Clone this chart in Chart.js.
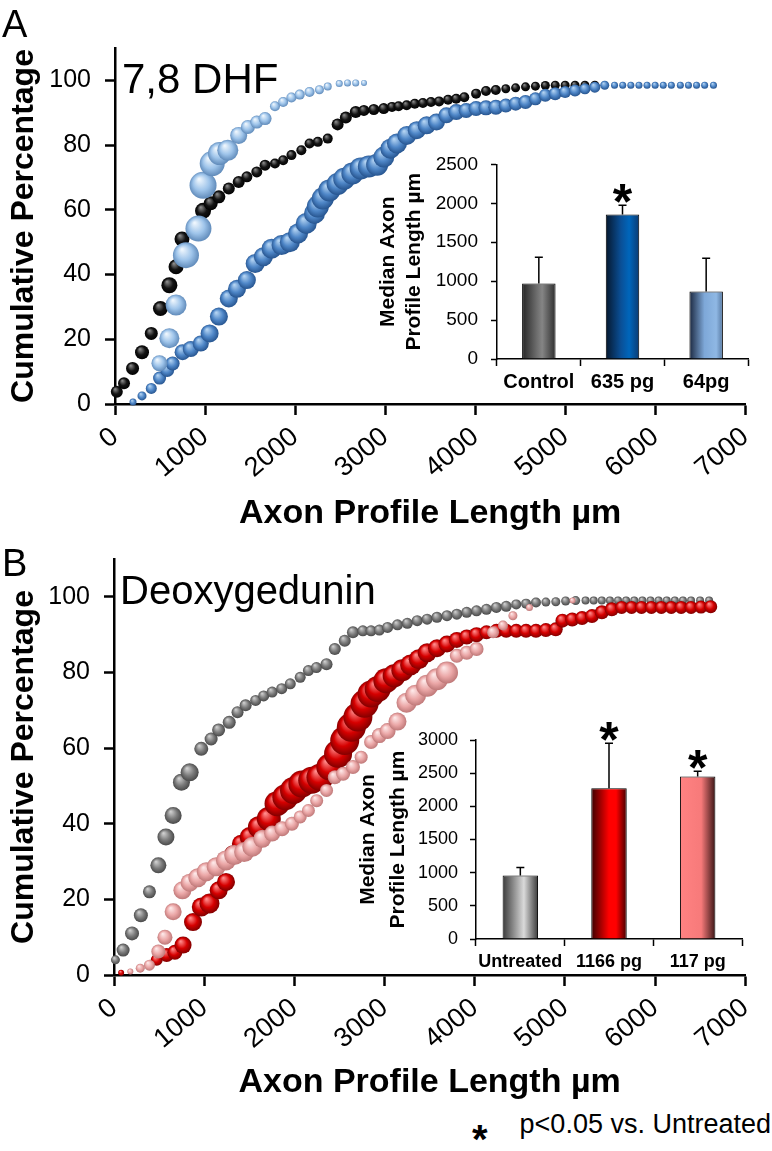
<!DOCTYPE html>
<html><head><meta charset="utf-8">
<script src="https://cdn.jsdelivr.net/npm/chart.js@4.4.1/dist/chart.umd.min.js"></script>
<style>
body{margin:0;background:#fff;width:772px;height:1151px;position:relative;overflow:hidden;font-family:"Liberation Sans",Arial,sans-serif;}
canvas{position:absolute;}
.t{position:absolute;white-space:nowrap;color:#000;line-height:1;}
</style></head><body>
<canvas id="cA" width="772" height="545" style="left:0;top:0"></canvas>
<canvas id="cB" width="772" height="578" style="left:0;top:530px"></canvas>
<canvas id="iA" width="402" height="262" style="left:370px;top:140px"></canvas>
<canvas id="iB" width="432" height="290" style="left:340px;top:700px"></canvas>
<div class="t" style="left:2px;top:5px;font-size:38px">A</div>
<div class="t" style="left:122px;top:58px;font-size:42px">7,8 DHF</div>
<div class="t" style="left:2px;top:544px;font-size:38px">B</div>
<div class="t" style="left:120px;top:570px;font-size:40px">Deoxygedunin</div>
<div class="t" style="right:1px;top:1111px;font-size:27px">p&lt;0.05 vs. Untreated</div>
<div class="t" style="left:472px;top:1119px;font-size:40px;font-weight:bold">*</div>
<script>
// ---------- DATA ----------
const xTicks = [0,1000,2000,3000,4000,5000,6000,7000];
const yTicks = [0,20,40,60,80,100];
const xTitle = 'Axon Profile Length µm';
const yTitle = 'Cumulative Percentage';

// Panel A : 7,8 DHF
const ctrlA_x = [20,100,195,300,403,505,604,678,744,978,1063,1154,1264,1374,1465,1575,1667,1777,1868,1960,2070,2161,2253,2363,2473,2564,2674,2765,2875,2985,3077,3150,3240,3330,3420,3510,3600,3700,3790,3880,4011,4121,4230,4341,4450,4560,4670,4780,4890,5000,5110,5220,5330];
const ctrlA_y = [3.8,6.4,11,16,21.8,29.5,36.7,42.4,51,59.7,62,64,66.6,68.6,70.2,71.7,73.8,74.3,75.3,76.9,78.4,80.5,81,82,86.4,88.5,90.2,90.7,91,91.3,91.8,92,92.3,92.8,93,93.3,93.5,94,94.3,94.8,95.9,96.7,97,97.4,97.7,98,98.2,98.4,98.5,98.5,98.5,98.5,98.5];
const ctrlA_r = [6,6,6.5,7,6.5,7.5,8,7.5,7.5,8,7,6.5,6,6,5.5,5.5,5.5,5,5,5,5,5,5,5,6,6,6,5.5,5.5,5.5,5,5,5,5,5,5,5,5,5,5,5,5,5,4.5,4.5,4.5,4.5,4.5,4.5,4.5,4.5,4.5,4.5];

const dhf635_x = [200,300,403,495,580,640,751,842,953,1051,1154,1264,1355,1465,1557,1648,1740,1850,1942,2033,2124,2216,2253,2308,2381,2473,2546,2637,2729,2820,2912,2986,3059,3132,3242,3352,3462,3571,3681,3791,3901,4011,4121,4231,4341,4451,4560,4670,4780,4890,5000,5110,5220,5330,5440,5549,5640,5730,5820,5910,6000,6090,6180,6280,6370,6460,6550,6648];
const dhf635_y = [0.6,2.5,4.8,8,10.5,12.5,16,17,18.7,21.8,27,32.6,35.6,38.3,43.4,45.5,48,49.1,50,52.7,55.8,58.9,61,63.5,66,68,69.6,71.2,72.8,73.4,73.9,76.3,78.9,80.5,83,84.6,86.1,87.1,89.2,90.2,90.7,91.3,91.5,91.7,92.2,92.8,93.3,94.3,95.4,95.9,96.4,96.9,97.4,97.9,98.5,98.5,98.5,98.5,98.5,98.5,98.5,98.5,98.5,98.5,98.5,98.5,98.5,98.5];
const dhf635_r = [3.5,4.5,5.5,6.5,7,7,8,8,8,9,9,9,9,9,9.5,9.5,10,10,10,10,10.5,10.5,11,11,11,11,11,11,11,11,11,10.5,10,10,9.5,9,9,8.5,8,8,7.5,7.5,7.5,7.5,7,7,7,6.5,6.5,6.5,6,6,5.5,5.5,4.5,3.5,3.5,3.5,3.5,3.5,3.5,3.5,3.5,3.5,3.5,3.5,3.5,3.5];

const dhf64_x = [494,604,678,788,927,978,1080,1161,1253,1374,1476,1575,1667,1777,1868,1960,2052,2161,2271,2363,2491,2583,2674,2766];
const dhf64_y = [12.6,20.3,30.6,46,54.2,67.6,74.3,77.4,78.4,83,85.6,87.1,88.2,92,93.3,94.7,95.6,96.4,97.1,98.1,99,99.2,99.2,99.2];
const dhf64_r = [8,10,10.5,13,13,13.5,12.5,11.5,10.5,8.5,7,6.5,6.5,5,5,5,5,5,4.5,4,3.5,3.5,3.5,3];

// Panel B : Deoxygedunin
const untrB_x = [16,101,200,298,393,492,576,656,748,839,968,1077,1160,1278,1370,1460,1571,1660,1754,1860,1955,2065,2156,2245,2357,2449,2559,2650,2760,2851,2943,3034,3144,3253,3363,3473,3582,3693,3802,3912,4021,4131,4241,4350,4461,4570,4680,4790,4900,5009,5120,5230,5320,5410,5500,5590,5680,5770,5860,5950,6040,6130,6220,6310,6400,6500,6600];
const untrB_y = [4,6.6,11,15.8,22,29,36.5,42.2,51,53.6,59.8,62.4,64.8,66.8,69.5,71.3,72.6,73.8,74.8,75.7,77,78.7,80.5,81.3,82.2,86.2,88.4,90.6,91,91,91.2,91.9,92.6,93,93.7,94.1,94.6,95,95.4,95.9,96.3,96.7,97.2,97.5,98,98.2,98.5,98.6,98.7,98.9,99,99,99,99,99,99,99,99,99,99,99,99,99,99,99,99,99];
const untrB_r = [4.5,6.5,7,7,6.5,8,8.5,8.5,8.5,9,7,6.5,6.5,6.5,6,6,5.5,5.5,5.5,5.5,5.5,5.5,5.5,5.5,6,6,6,6,5.5,5.5,5.5,5.5,5.5,5.5,5.5,5.5,5.5,5.5,5.5,5.5,5.5,5.5,5.5,5.5,5,5,5,4.5,4.5,4.5,4.5,4,4,4,4,4,4,4,4,4,4,4,4,4,4,4,4];

const deo1166_x = [79,474,584,675,766,876,968,1059,1161,1242,1315,1407,1505,1607,1717,1808,1900,1991,2083,2193,2284,2394,2485,2559,2632,2705,2778,2851,2924,3015,3107,3198,3290,3380,3473,3582,3693,3802,3912,4021,4131,4241,4350,4461,4570,4680,4790,4899,4973,5082,5191,5301,5411,5521,5630,5740,5850,5960,6070,6180,6290,6400,6510,6618];
const deo1166_y = [0.6,4,5.3,6,7.9,14,18,18.9,22.4,24.6,32,34.7,36.5,39.1,41.3,45.3,47,48.8,50.5,51.5,52.3,55,58.5,62,65.5,68.2,71.7,74.3,75.6,77.8,79.1,80.6,82,83.5,85.2,86.4,87.5,88.6,89.4,90,90.6,91,91,91,91,91,91.2,91.4,93.7,94,94.4,94.9,95.9,96.7,97.2,97.2,97.2,97.2,97.2,97.2,97.2,97.2,97.3,97.4];
const deo1166_r = [3,6,7,7.5,8.5,9,9.5,10,9,9,8.5,9,10,11,12,12.5,13,13.5,13.5,13.5,13.5,13.5,14,14.5,14.5,14.5,14,13.5,13,12.5,11.5,11,10.5,10,9.5,9,8.5,8,7.5,7.5,7,7,7,7,7,7,7,7,7,7,7,7,7,7,6.5,6.5,6.5,6.5,6.5,6.5,6.5,6.5,6.5,6.5];

const deo117_x = [181,291,393,492,565,656,759,839,930,1023,1133,1242,1333,1443,1534,1644,1754,1864,1973,2065,2156,2248,2357,2449,2541,2650,2741,2851,2943,3034,3144,3244,3345,3473,3582,3693,3802,3912,4021,4204,4314,4424,4607,5085];
const deo117_y = [0.9,1.8,2.6,6.2,10,16.7,22.4,24.4,25.7,27.3,28.6,30.3,31.7,32.5,33.9,36,37.4,38.7,40,41.8,43.5,46.1,48.8,52.3,53.2,55,57.6,61.6,63.3,64.5,67,72,74,76.5,78.2,80,84.4,85.2,86.2,90.6,92.4,95,97.2,99];
const deo117_r = [3,4.5,5.5,7,7.5,8.5,9,9,9.5,9.5,9.5,10,10,10,10,9,8,7.5,7,6.5,6.5,6.5,6.5,7,7,7,6.5,7,7.5,8,9,10,10.5,11,11,11,7,7,7,6,5,4.5,3.5,3];

// Insets
const barA_labels = ['Control','635 pg','64pg'];
const barA_vals = [970,1856,868];
const barA_err = [1308,1975,1295];
const barA_sig = [false,true,false];
const barA_ticks = [0,500,1000,1500,2000,2500];

const barB_labels = ['Untreated','1166 pg','117 pg'];
const barB_vals = [958,2274,2449];
const barB_err = [1078,2952,2530];
const barB_sig = [false,true,true];
const barB_ticks = [0,500,1000,1500,2000,2500,3000];
const insetTitle = ['Median Axon','Profile Length µm'];

// ---------- CHARTS ----------
Chart.defaults.color = '#000';
Chart.defaults.font.family = '"Liberation Sans", Arial, sans-serif';
Chart.defaults.plugins.legend.display = false;
Chart.defaults.plugins.tooltip.enabled = false;

function pts(xs, ys, rs){ return xs.map((x,i)=>({x:x, y:ys[i], r:rs[i]})); }

function sphere(base, light, dark){
  return (c)=>{
    const ch = c.chart, raw = c.raw;
    if(!raw || !ch.chartArea || !ch.scales.x) return base;
    const x = ch.scales.x.getPixelForValue(raw.x), y = ch.scales.y.getPixelForValue(raw.y), r = raw.r;
    const g = ch.ctx.createRadialGradient(x - r*0.3, y - r*0.45, r*0.05, x, y, r*1.05);
    g.addColorStop(0, light); g.addColorStop(0.55, base); g.addColorStop(1, dark);
    return g;
  };
}
function bubbleDs(xs, ys, rs, base, light, dark){
  return {data: pts(xs, ys, rs), backgroundColor: sphere(base, light, dark), borderWidth: 0, clip: false};
}

function mainChart(id, datasets, cfg){
  return new Chart(document.getElementById(id), {
    type: 'bubble',
    data: {datasets: datasets},
    options: {
      responsive: false, animation: false, events: [],
      layout: {padding: {top: cfg.padTop, right: cfg.padRight, left: 0, bottom: 0}},
      scales: {
        x: {
          type: 'linear', min: 0, max: 7000,
          afterBuildTicks: s => { s.ticks = xTicks.map(v => ({value: v})); },
          afterFit: s => { s.height = cfg.xH; },
          ticks: {font: {size: 27}, minRotation: 40, maxRotation: 40, padding: 6, autoSkip: false, callback: v => String(v)},
          grid: {drawOnChartArea: false, drawTicks: true, tickLength: 11, tickWidth: 2.5, tickColor: '#000', color: '#000'},
          border: {display: true, color: '#000', width: 2.5},
          title: {display: true, text: xTitle, color: '#000',
            font: {size: 34, weight: 'bold', lineHeight: 1},
            padding: {top: 0, bottom: cfg.xTitlePad}}
        },
        y: {
          type: 'linear', min: 0, max: 110,
          afterBuildTicks: s => { s.ticks = yTicks.map(v => ({value: v})); },
          afterFit: s => { s.width = cfg.yW; },
          ticks: {font: {size: 25}, padding: 14, callback: v => String(v)},
          grid: {drawOnChartArea: false, drawTicks: true, tickLength: 10, tickWidth: 2.5, tickColor: '#000', color: '#000'},
          border: {display: true, color: '#000', width: 2.5},
          title: {display: true, text: yTitle, color: '#000',
            font: {size: 32, weight: 'bold', lineHeight: 1}, padding: {top: 8, bottom: 0}}
        }
      }
    }
  });
}

mainChart('cA', [
  bubbleDs(dhf64_x, dhf64_y, dhf64_r, '#9ec4ea', '#eef6fd', '#5b86b6'),
  bubbleDs(dhf635_x, dhf635_y, dhf635_r, '#4f87c8', '#b3d3f2', '#23508a'),
  bubbleDs(ctrlA_x, ctrlA_y, ctrlA_r, '#141414', '#8a8a8a', '#000000')
], {padTop: 48, padRight: 19, xH: 141, yW: 115, xTitlePad: 14});

mainChart('cB', [
  bubbleDs(deo117_x, deo117_y, deo117_r, '#eba7a7', '#fde8e8', '#bb7474'),
  bubbleDs(deo1166_x, deo1166_y, deo1166_r, '#d60000', '#ff8a8a', '#7a0000'),
  bubbleDs(untrB_x, untrB_y, untrB_r, '#7b7b7b', '#cfcfcf', '#454545')
], {padTop: 28, padRight: 20, xH: 133, yW: 114, xTitlePad: 8});

const BAR_PCT = 0.4;
function barFill(stopsList){
  return (c)=>{
    const idx = (c.dataIndex === undefined) ? 0 : c.dataIndex;
    const stops = stopsList[idx];
    const ch = c.chart, xs = ch.scales && ch.scales.x;
    if(!xs || !ch.chartArea || c.dataIndex === undefined) return stops[1][1];
    const cx = xs.getPixelForValue(idx);
    const w = xs.width / xs.getLabels().length * BAR_PCT;
    const g = ch.ctx.createLinearGradient(cx - w/2, 0, cx + w/2, 0);
    stops.forEach(s => g.addColorStop(s[0], s[1]));
    return g;
  };
}
function extras(vals, errs, sig){
  return {
    id: 'extras',
    afterDatasetsDraw(chart){
      const ctx = chart.ctx, xs = chart.scales.x, ys = chart.scales.y;
      ctx.save();
      ctx.strokeStyle = '#000'; ctx.lineWidth = 1.5; ctx.fillStyle = '#000';
      vals.forEach((v, i) => {
        const px = xs.getPixelForValue(i);
        const y0 = ys.getPixelForValue(v), y1 = ys.getPixelForValue(errs[i]);
        ctx.beginPath();
        ctx.moveTo(px, y0); ctx.lineTo(px, y1);
        ctx.moveTo(px - 4, y1); ctx.lineTo(px + 4, y1);
        ctx.stroke();
        if(sig[i]){
          ctx.font = 'bold 50px "Liberation Sans", Arial';
          ctx.textAlign = 'center'; ctx.textBaseline = 'alphabetic';
          ctx.fillText('*', px, y1 - 15 + 0.57*50);
        }
      });
      ctx.restore();
    }
  };
}
function insetChart(id, labels, vals, errs, sig, ticks, stops, cfg){
  return new Chart(document.getElementById(id), {
    type: 'bar',
    data: {labels: labels, datasets: [{data: vals, backgroundColor: barFill(stops), borderColor: '#000', borderWidth: 1,
      barPercentage: BAR_PCT, categoryPercentage: 1}]},
    options: {
      responsive: false, animation: false, events: [],
      layout: {padding: {top: cfg.padTop, right: cfg.padRight, left: 0, bottom: 0}},
      scales: {
        x: {
          afterFit: s => { s.height = cfg.xH; },
          ticks: {font: {size: cfg.catSize, weight: 'bold'}, padding: cfg.catPad, maxRotation: 0, autoSkip: false},
          grid: {offset: true, drawOnChartArea: false, drawTicks: true, tickLength: 7, tickWidth: 1.5, tickColor: '#000', color: '#000'},
          border: {display: true, color: '#000', width: 1.5}
        },
        y: {
          min: 0, max: cfg.max,
          afterBuildTicks: s => { s.ticks = ticks.map(v => ({value: v})); },
          afterFit: s => { s.width = cfg.yW; },
          ticks: {font: {size: cfg.tickSize}, padding: cfg.tickPad, callback: v => String(v)},
          grid: {drawOnChartArea: false, drawTicks: true, tickLength: 6, tickWidth: 1.5, tickColor: '#000', color: '#000'},
          border: {display: true, color: '#000', width: 1.5},
          title: {display: true, text: insetTitle, color: '#000',
            font: {size: 21, weight: 'bold', lineHeight: cfg.titleLH}, padding: {top: cfg.titlePad, bottom: 0}}
        }
      }
    },
    plugins: [extras(vals, errs, sig)]
  });
}

insetChart('iA', barA_labels, barA_vals, barA_err, barA_sig, barA_ticks, [
  [[0,'#262626'],[0.45,'#6f6f6f'],[0.6,'#858585'],[1,'#2e2e2e']],
  [[0,'#06172d'],[0.45,'#0a4f96'],[0.7,'#0066bb'],[1,'#0b3a72']],
  [[0,'#1b2840'],[0.45,'#7ea8d8'],[0.8,'#8fb8e4'],[1,'#5577a0']]
], {padTop: 22, padRight: 24, xH: 43, yW: 127, max: 2500, catSize: 20, catPad: 4, tickSize: 19, tickPad: 13, titleLH: '26px', titlePad: 5});

insetChart('iB', barB_labels, barB_vals, barB_err, barB_sig, barB_ticks, [
  [[0,'#3a3a3a'],[0.6,'#dadada'],[1,'#3a3a3a']],
  [[0,'#3a0000'],[0.5,'#ff0000'],[0.7,'#ff0000'],[1,'#420000']],
  [[0,'#ff8282'],[0.6,'#f77a7a'],[1,'#3a1515']]
], {padTop: 40, padRight: 30, xH: 51, yW: 136, max: 3000, catSize: 18, catPad: 5, tickSize: 18, tickPad: 12, titleLH: '30px', titlePad: 13});
</script>
</body></html>
